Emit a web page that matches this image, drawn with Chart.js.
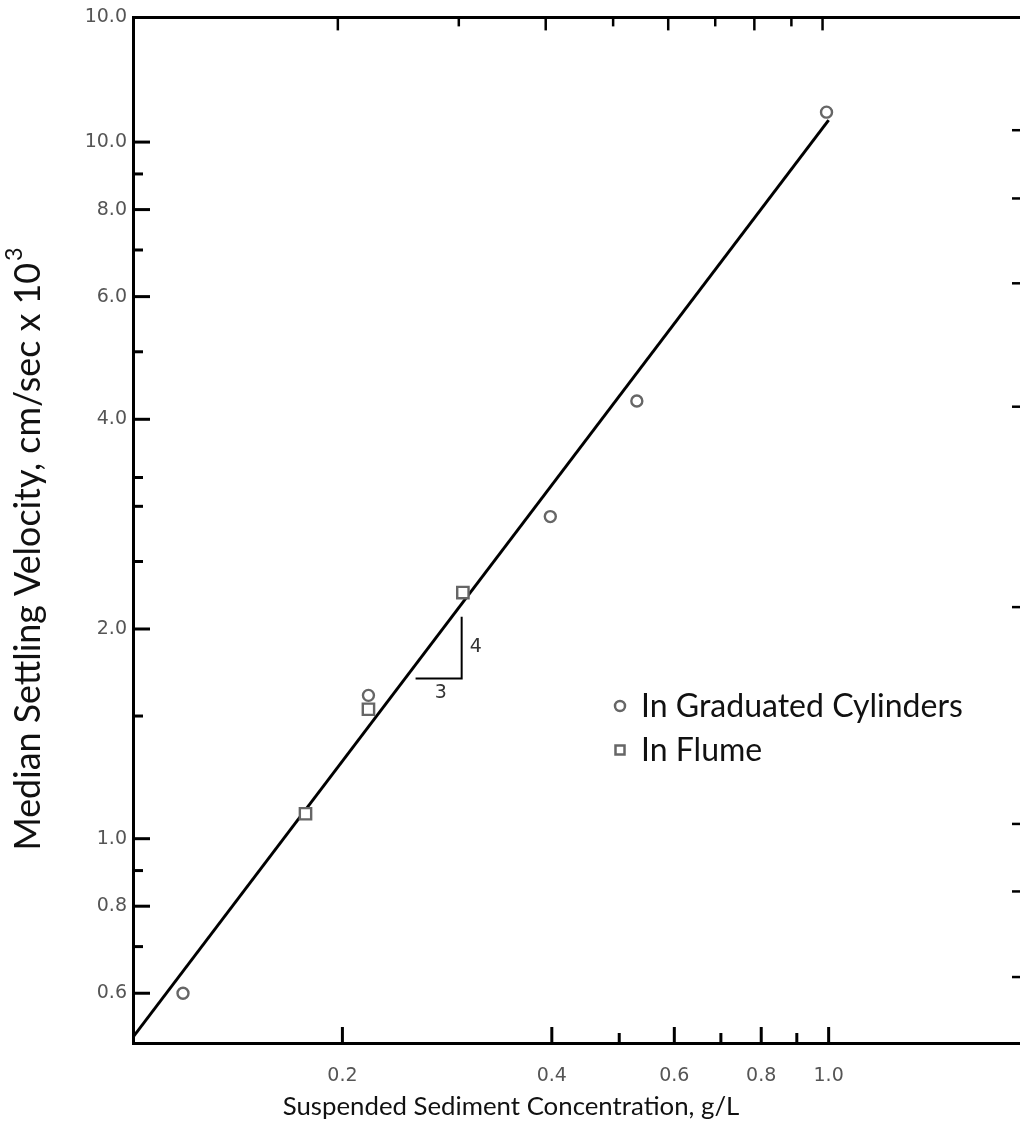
<!DOCTYPE html>
<html>
<head>
<meta charset="utf-8">
<title>Median Settling Velocity vs Suspended Sediment Concentration</title>
<script src="https://cdn.jsdelivr.net/npm/chart.js@4.4.1/dist/chart.umd.min.js"></script>
<style>
  html, body { margin: 0; padding: 0; background: #fff; }
  #wrap { width: 1020px; height: 1131px; position: relative; }
</style>
</head>
<body>
<div id="wrap"><canvas id="settling-chart"></canvas></div>
<script>
// 1. Data
const cylinderConc = [0.118, 0.218, 0.398, 0.530, 0.993];
const cylinderVel = [0.60, 1.606, 2.90, 4.25, 11.04];
const flumeConc = [0.177, 0.218, 0.298];
const flumeVel = [1.086, 1.534, 2.256];
const fitConc = [0.1, 1.0];
const fitVel = [0.519, 10.75];
const slopeConc = [0.2548, 0.2968, 0.2968];
const slopeVel = [1.698, 1.698, 2.083];

// 2. Axes and tick labels
const xMin = 0.1, xMax = 1.884;
const yMin = 0.509, yMax = 15.1;
const xTickValues = [0.2, 0.4, 0.6, 0.8, 1.0];
const xTickLabels = ['0.2', '0.4', '0.6', '0.8', '1.0'];
const xMinorBottom = [0.5, 0.7, 0.9];
const xTopMajor = [0.197, 0.392, 0.588, 0.782, 0.98];
const xTopMinor = [0.294, 0.490, 0.687, 0.884];
const yTickValues = [0.6, 0.8, 1.0, 2.0, 4.0, 6.0, 8.0, 10.0, yMax];
const yTickLabels = ['0.6', '0.8', '1.0', '2.0', '4.0', '6.0', '8.0', '10.0', '10.0'];
const yMinorLeft = [0.7, 0.9, 1.5, 2.5, 3.0, 3.3, 5.0, 7.0, 9.0];
const yRightTicks = [10.4, 8.3, 6.27, 4.17, 2.15, 1.05, 0.84, 0.633];
const legendNames = ['In Graduated Cylinders', 'In Flume'];
const xTitle = 'Suspended Sediment Concentration, g/L';
const yTitle = 'Median Settling Velocity, cm/sec x 10';

const markColor = '#666';
const labelFont = '19px "DejaVu Sans"';
const textFamily = 'Lato';

function pairs(xs, ys) {
    return xs.map((x, i) => ({ x: x, y: ys[i] }));
}

// font size that makes text span a given width
function fitSize(ctx, text, width) {
    ctx.font = '100px ' + textFamily;
    return 100 * width / ctx.measureText(text).width;
}

document.addEventListener('DOMContentLoaded', () => {
    const canvas = document.getElementById('settling-chart');

    // 3. Tick marks, frame, annotations, titles and legend
    const paperPlugin = {
        id: 'paper',
        afterDatasetsDraw(chart) {
            const ctx = chart.ctx;
            const xs = chart.scales.x;
            const ys = chart.scales.y;
            const a = chart.chartArea;

            ctx.save();
            ctx.strokeStyle = '#000';
            ctx.lineCap = 'butt';

            // top frame line
            ctx.lineWidth = 3;
            ctx.beginPath();
            ctx.moveTo(a.left, a.top);
            ctx.lineTo(a.right, a.top);
            ctx.stroke();

            const tickX = (vals, y0, len, w) => {
                ctx.lineWidth = w;
                vals.forEach(v => {
                    const px = xs.getPixelForValue(v);
                    ctx.beginPath();
                    ctx.moveTo(px, y0);
                    ctx.lineTo(px, y0 + len);
                    ctx.stroke();
                });
            };
            const tickY = (vals, x0, len, w) => {
                ctx.lineWidth = w;
                vals.forEach(v => {
                    const py = ys.getPixelForValue(v);
                    ctx.beginPath();
                    ctx.moveTo(x0, py);
                    ctx.lineTo(x0 + len, py);
                    ctx.stroke();
                });
            };

            tickX(xTickValues, a.bottom, -16, 3);
            tickX(xMinorBottom, a.bottom, -10, 3);
            tickX(xTopMajor, a.top, 13, 2.5);
            tickX(xTopMinor, a.top, 9, 2.5);
            tickY(yTickValues.slice(0, -1), a.left, 17, 3);
            tickY(yMinorLeft, a.left, 10, 3);
            tickY(yRightTicks, a.right, -8, 2.5);

            // slope labels
            ctx.fillStyle = '#333';
            ctx.font = labelFont;
            ctx.textAlign = 'center';
            ctx.textBaseline = 'middle';
            ctx.fillText('3', xs.getPixelForValue(0.277), ys.getPixelForValue(1.616));
            ctx.fillText('4', xs.getPixelForValue(0.311), ys.getPixelForValue(1.887));

            // legend
            ctx.strokeStyle = markColor;
            ctx.lineWidth = 2.5;
            ctx.beginPath();
            ctx.arc(620, 706, 5, 0, Math.PI * 2);
            ctx.stroke();
            ctx.strokeRect(615.5, 745.5, 9, 9);
            ctx.fillStyle = '#111';
            const legendSize = fitSize(ctx, legendNames[0], 322);
            ctx.font = legendSize + 'px ' + textFamily;
            ctx.textAlign = 'left';
            ctx.fillText(legendNames[0], 641, 707);
            ctx.fillText(legendNames[1], 641, 751);

            // axis titles
            const xSize = fitSize(ctx, xTitle, 457);
            ctx.font = xSize + 'px ' + textFamily;
            ctx.textAlign = 'center';
            ctx.fillText(xTitle, 511, 1107);

            ctx.translate(28, 550);
            ctx.rotate(-Math.PI / 2);
            const ySize = fitSize(ctx, yTitle, 588);
            const supSize = ySize * 0.65;
            ctx.font = ySize + 'px ' + textFamily;
            const wMain = ctx.measureText(yTitle).width;
            ctx.font = supSize + 'px ' + textFamily;
            const wSup = ctx.measureText('3').width;
            const start = -(wMain + wSup) / 2;
            ctx.font = ySize + 'px ' + textFamily;
            ctx.textAlign = 'left';
            ctx.fillText(yTitle, start, 0);
            ctx.font = supSize + 'px ' + textFamily;
            ctx.fillText('3', start + wMain + 2, -ySize * 0.38);
            ctx.restore();
        }
    };

    // 4. Chart
    new Chart(canvas.getContext('2d'), {
        type: 'scatter',
        data: {
            datasets: [
                {
                    label: legendNames[0],
                    data: pairs(cylinderConc, cylinderVel),
                    pointStyle: 'circle',
                    pointRadius: 5.5,
                    pointBorderWidth: 2.4,
                    borderColor: markColor,
                    backgroundColor: '#fff',
                    order: 0
                },
                {
                    label: legendNames[1],
                    data: pairs(flumeConc, flumeVel),
                    pointStyle: 'rect',
                    pointRadius: 8,
                    pointBorderWidth: 2.4,
                    borderColor: markColor,
                    backgroundColor: '#fff',
                    order: 0
                },
                {
                    label: 'fit',
                    data: pairs(fitConc, fitVel),
                    showLine: true,
                    borderColor: '#000',
                    borderWidth: 3,
                    pointRadius: 0,
                    order: 2
                },
                {
                    label: 'slope',
                    data: pairs(slopeConc, slopeVel),
                    showLine: true,
                    borderColor: '#000',
                    borderWidth: 2,
                    pointRadius: 0,
                    order: 2
                }
            ]
        },
        options: {
            responsive: true,
            maintainAspectRatio: false,
            animation: false,
            layout: { autoPadding: false, padding: { top: 12, right: 0, left: 0, bottom: 0 } },
            plugins: {
                legend: { display: false },
                tooltip: { enabled: false }
            },
            scales: {
                x: {
                    type: 'logarithmic',
                    min: xMin,
                    max: xMax,
                    afterFit: (scale) => { scale.height = 88; },
                    afterBuildTicks: (scale) => {
                        scale.ticks = xTickValues.map(v => ({ value: v }));
                    },
                    grid: { drawOnChartArea: false, drawTicks: false },
                    border: { display: true, color: '#000', width: 3 },
                    ticks: {
                        padding: 22,
                        maxRotation: 0,
                        color: '#555',
                        font: { family: 'DejaVu Sans', size: 19 },
                        callback: (v) => {
                            const i = xTickValues.indexOf(v);
                            return i >= 0 ? xTickLabels[i] : '';
                        }
                    }
                },
                y: {
                    type: 'logarithmic',
                    min: yMin,
                    max: yMax,
                    afterFit: (scale) => { scale.width = 133; },
                    afterBuildTicks: (scale) => {
                        scale.ticks = yTickValues.map(v => ({ value: v }));
                    },
                    grid: { drawOnChartArea: false, drawTicks: false },
                    border: { display: true, color: '#000', width: 3 },
                    ticks: {
                        padding: 6,
                        color: '#555',
                        font: { family: 'DejaVu Sans', size: 19 },
                        callback: (v) => {
                            const i = yTickValues.indexOf(v);
                            return i >= 0 ? yTickLabels[i] : '';
                        }
                    }
                }
            }
        },
        plugins: [paperPlugin]
    });
});
</script>
</body>
</html>
